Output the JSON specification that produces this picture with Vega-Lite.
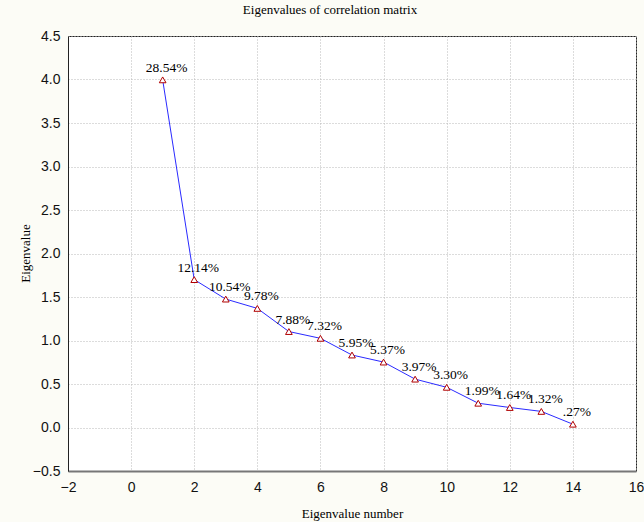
{
  "$schema": "https://vega.github.io/schema/vega-lite/v6.json",
  "width": 568,
  "height": 435,
  "autosize": {"type": "none"},
  "padding": {"left": 68, "top": 36, "right": 8, "bottom": 51},
  "background": "#fcfcf6",
  "config": {"view": {"stroke": "#222", "strokeWidth": 1, "fill": "white"}},
  "title": {"text": "Eigenvalues of correlation matrix", "font": "Liberation Serif", "fontSize": 13, "fontWeight": "normal", "color": "#000", "offset": 12, "dx": -22},
  "data": {"values": [
    {"n": 1, "ev": 3.996, "label": "28.54%"},
    {"n": 2, "ev": 1.700, "label": "12.14%"},
    {"n": 3, "ev": 1.476, "label": "10.54%"},
    {"n": 4, "ev": 1.369, "label": "9.78%"},
    {"n": 5, "ev": 1.103, "label": "7.88%"},
    {"n": 6, "ev": 1.025, "label": "7.32%"},
    {"n": 7, "ev": 0.833, "label": "5.95%"},
    {"n": 8, "ev": 0.752, "label": "5.37%"},
    {"n": 9, "ev": 0.556, "label": "3.97%"},
    {"n": 10, "ev": 0.462, "label": "3.30%"},
    {"n": 11, "ev": 0.279, "label": "1.99%"},
    {"n": 12, "ev": 0.230, "label": "1.64%"},
    {"n": 13, "ev": 0.185, "label": "1.32%"},
    {"n": 14, "ev": 0.038, "label": ".27%"}
  ]},
  "encoding": {
    "x": {"field": "n", "type": "quantitative", "scale": {"domain": [-2, 16], "nice": false, "zero": false},
      "axis": {"orient": "bottom", "tickCount": 9, "grid": true, "gridDash": [1, 2], "gridColor": "#b8b8b8", "ticks": false,
        "domainColor": "#777", "domainWidth": 2, "labelFont": "Liberation Sans", "labelFontSize": 14, "labelColor": "#111", "labelPadding": 9, "labelOverlap": false, "labelBound": false, "labelFlush": false,
        "title": "Eigenvalue number", "titleFont": "Liberation Serif", "titleFontSize": 13, "titleFontWeight": "normal", "titleColor": "#000", "titleY": 46, "titleBaseline": "alphabetic"}},
    "y": {"field": "ev", "type": "quantitative", "scale": {"domain": [-0.5, 4.5], "nice": false, "zero": false},
      "axis": {"orient": "left", "values": [-0.5, 0, 0.5, 1, 1.5, 2, 2.5, 3, 3.5, 4, 4.5], "format": ".1f", "grid": true, "gridDash": [1, 2], "gridColor": "#b8b8b8",
        "ticks": false, "domainColor": "#222", "labelFont": "Liberation Sans", "labelFontSize": 14, "labelColor": "#111", "labelPadding": 8, "labelOverlap": false, "labelBound": false, "labelFlush": false,
        "title": "Eigenvalue", "titleFont": "Liberation Serif", "titleFontSize": 13, "titleFontWeight": "normal", "titleColor": "#000", "titleX": -43, "titleY": 217, "titleAngle": -90, "titleBaseline": "middle", "titleAlign": "center"}}
  },
  "layer": [
    {"mark": {"type": "line", "color": "#2a2aff", "strokeWidth": 1}},
    {"mark": {"type": "point", "shape": "triangle-up", "filled": false, "fill": "white", "fillOpacity": 1, "stroke": "#b00000", "strokeWidth": 1, "size": 45, "opacity": 1}},
    {"mark": {"type": "text", "font": "Liberation Serif", "fontSize": 13.5, "dx": 4, "dy": -8, "baseline": "alphabetic", "align": "center", "color": "#000"},
      "encoding": {"text": {"field": "label"}}}
  ]
}
